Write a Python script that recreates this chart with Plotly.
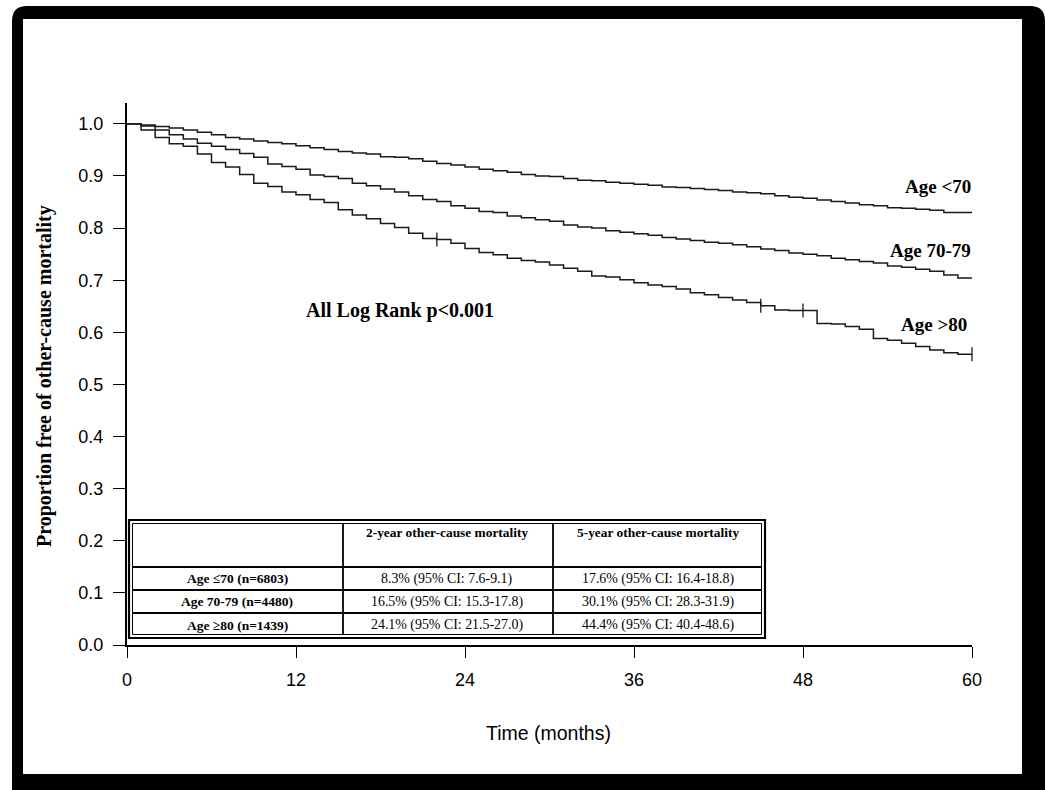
import plotly.graph_objects as go

# ---------------- data ----------------
months = list(range(0, 61))

surv_lt70 = [1.000, 0.998, 0.995, 0.992, 0.988, 0.984, 0.979, 0.974, 0.971, 0.967,
             0.964, 0.962, 0.958, 0.954, 0.951, 0.947, 0.944, 0.942, 0.937, 0.936,
             0.933, 0.928, 0.924, 0.921, 0.917, 0.913, 0.910, 0.907, 0.903, 0.900,
             0.899, 0.895, 0.892, 0.891, 0.888, 0.886, 0.884, 0.882, 0.879, 0.878,
             0.876, 0.874, 0.872, 0.869, 0.868, 0.866, 0.862, 0.859, 0.857, 0.854,
             0.851, 0.848, 0.845, 0.843, 0.839, 0.838, 0.836, 0.834, 0.830, 0.830,
             0.830]

surv_7079 = [1.000, 0.996, 0.988, 0.979, 0.971, 0.963, 0.957, 0.951, 0.943, 0.936,
             0.923, 0.918, 0.913, 0.902, 0.899, 0.895, 0.886, 0.881, 0.875, 0.869,
             0.862, 0.855, 0.851, 0.843, 0.838, 0.832, 0.830, 0.823, 0.820, 0.816,
             0.813, 0.806, 0.802, 0.800, 0.795, 0.792, 0.789, 0.786, 0.782, 0.779,
             0.776, 0.773, 0.771, 0.768, 0.764, 0.760, 0.757, 0.752, 0.750, 0.747,
             0.742, 0.739, 0.736, 0.733, 0.727, 0.725, 0.721, 0.717, 0.710, 0.704,
             0.704]

surv_gt80 = [1.000, 0.988, 0.974, 0.962, 0.957, 0.942, 0.926, 0.917, 0.903, 0.886,
             0.880, 0.869, 0.864, 0.855, 0.849, 0.835, 0.825, 0.818, 0.809, 0.801,
             0.790, 0.780, 0.778, 0.771, 0.761, 0.753, 0.749, 0.742, 0.738, 0.735,
             0.729, 0.723, 0.717, 0.708, 0.706, 0.701, 0.695, 0.691, 0.688, 0.683,
             0.676, 0.672, 0.667, 0.662, 0.657, 0.651, 0.643, 0.642, 0.642, 0.617,
             0.616, 0.611, 0.606, 0.588, 0.585, 0.579, 0.573, 0.566, 0.561, 0.558,
             0.558]

censor_t_gt80 = [22, 45, 48, 60]
censor_s_gt80 = [0.778, 0.651, 0.642, 0.558]

curve_labels = ["Age <70", "Age 70-79", "Age >80"]
x_ticks = [0, 12, 24, 36, 48, 60]
y_ticks = [0.0, 0.1, 0.2, 0.3, 0.4, 0.5, 0.6, 0.7, 0.8, 0.9, 1.0]

table_header = ["", "2-year other-cause mortality", "5-year other-cause mortality"]
table_rows = ["Age \u226470 (n=6803)", "Age 70-79 (n=4480)", "Age \u226580 (n=1439)"]
table_2yr = ["8.3% (95% CI: 7.6-9.1)", "16.5% (95% CI: 15.3-17.8)", "24.1% (95% CI: 21.5-27.0)"]
table_5yr = ["17.6% (95% CI: 16.4-18.8)", "30.1% (95% CI: 28.3-31.9)", "44.4% (95% CI: 40.4-48.6)"]

# ---------------- layout geometry (pixels) ----------------
W, H = 1046, 790
L, R, T, B = 127, 74, 103, 145
PW, PH = W - L - R, H - T - B


def px(x):
    return (x - L) / PW


def py(y):
    return (H - B - y) / PH


INK = "#1a1a1a"
SERIF = "Liberation Serif"
SANS = "Liberation Sans"

fig = go.Figure()
for vals in (surv_lt70, surv_7079, surv_gt80):
    fig.add_trace(go.Scatter(x=months, y=vals, mode="lines",
                             line=dict(shape="hv", color=INK, width=1.5),
                             hoverinfo="skip", showlegend=False))
fig.add_trace(go.Scatter(x=censor_t_gt80, y=censor_s_gt80, mode="markers",
                         marker=dict(symbol="line-ns", size=10, color=INK,
                                     line=dict(width=1.3, color=INK)),
                         cliponaxis=False, hoverinfo="skip", showlegend=False))

shapes = []
# black frame with rounded top corners
x0, x1, y0, y1, r = 12, 1045, 6, 790, 15
path = (f"M {px(x0)},{py(y1)} L {px(x0)},{py(y0 + r)} "
        f"Q {px(x0)},{py(y0)} {px(x0 + r)},{py(y0)} "
        f"L {px(x1 - r)},{py(y0)} Q {px(x1)},{py(y0)} {px(x1)},{py(y0 + r)} "
        f"L {px(x1)},{py(y1)} Z")
shapes.append(dict(type="path", xref="paper", yref="paper", path=path,
                   fillcolor="black", line=dict(width=0), layer="below"))
shapes.append(dict(type="rect", xref="paper", yref="paper",
                   x0=px(23), x1=px(1022), y0=py(774), y1=py(19),
                   fillcolor="white", line=dict(width=0), layer="below"))

# table lines
tx0, tx1, ty0, ty1 = 129, 765, 520, 638
shapes.append(dict(type="rect", xref="paper", yref="paper",
                   x0=px(tx0), x1=px(tx1), y0=py(ty1), y1=py(ty0),
                   line=dict(color="black", width=2.2), fillcolor="white"))
shapes.append(dict(type="rect", xref="paper", yref="paper",
                   x0=px(tx0 + 3.5), x1=px(tx1 - 3.5), y0=py(ty1 - 3.5), y1=py(ty0 + 3.5),
                   line=dict(color="black", width=1)))
for cx in (343, 553):
    shapes.append(dict(type="line", xref="paper", yref="paper",
                       x0=px(cx), x1=px(cx), y0=py(ty1 - 3.5), y1=py(ty0 + 3.5),
                       line=dict(color="black", width=1.8)))
for ry in (567, 590, 613):
    shapes.append(dict(type="line", xref="paper", yref="paper",
                       x0=px(tx0 + 3.5), x1=px(tx1 - 3.5), y0=py(ry), y1=py(ry),
                       line=dict(color="black", width=1.8)))

annotations = []


def ann(text, x, y, size, family=SERIF, xanchor="center", angle=0, bold=False):
    annotations.append(dict(text=f"<b>{text}</b>" if bold else text,
                            xref="paper", yref="paper", x=px(x), y=py(y),
                            xanchor=xanchor, yanchor="middle", showarrow=False,
                            textangle=angle,
                            font=dict(family=family, size=size, color="black")))


col_c = [237, 447, 658]
row_c = [578.5, 601.5, 625]
for j, h in enumerate(table_header):
    if h:
        ann(h, col_c[j], 532, 13.4, bold=True)
for i in range(3):
    ann(table_rows[i], col_c[0], row_c[i], 13.5, bold=True)
    ann(table_2yr[i], col_c[1], row_c[i], 13.9)
    ann(table_5yr[i], col_c[2], row_c[i], 13.9)

ann(curve_labels[0], 973, 186, 19, xanchor="right", bold=True)
ann(curve_labels[1], 973, 250, 19, xanchor="right", bold=True)
ann(curve_labels[2], 969, 324, 19, xanchor="right", bold=True)
ann("All Log Rank p<0.001", 400, 310, 20, bold=True)
ann("Proportion free of other-cause mortality", 44, 376, 20, angle=-90, bold=True)
ann("Time (months)", 548, 733, 19.5, family=SANS)

fig.update_layout(
    width=W, height=H, autosize=False,
    margin=dict(l=L, r=R, t=T, b=B, pad=0),
    paper_bgcolor="white", plot_bgcolor="white",
    shapes=shapes, annotations=annotations, showlegend=False,
    xaxis=dict(range=[0, 60], tickvals=x_ticks, ticktext=[str(v) for v in x_ticks],
               showline=True, linecolor="black", linewidth=2, ticks="outside",
               ticklen=11, tickwidth=1, tickcolor="black", showgrid=False, zeroline=False,
               tickfont=dict(family=SANS, size=18, color="black"), ticklabelstandoff=6,
               fixedrange=True),
    yaxis=dict(range=[0, 1.04], tickvals=y_ticks, ticktext=[f"{v:.1f}" for v in y_ticks],
               showline=True, linecolor="black", linewidth=2, ticks="outside",
               ticklen=12, tickwidth=1, tickcolor="black", showgrid=False, zeroline=False,
               tickfont=dict(family=SANS, size=18, color="black"), ticklabelstandoff=6,
               fixedrange=True),
)

fig.write_html("out.html")
